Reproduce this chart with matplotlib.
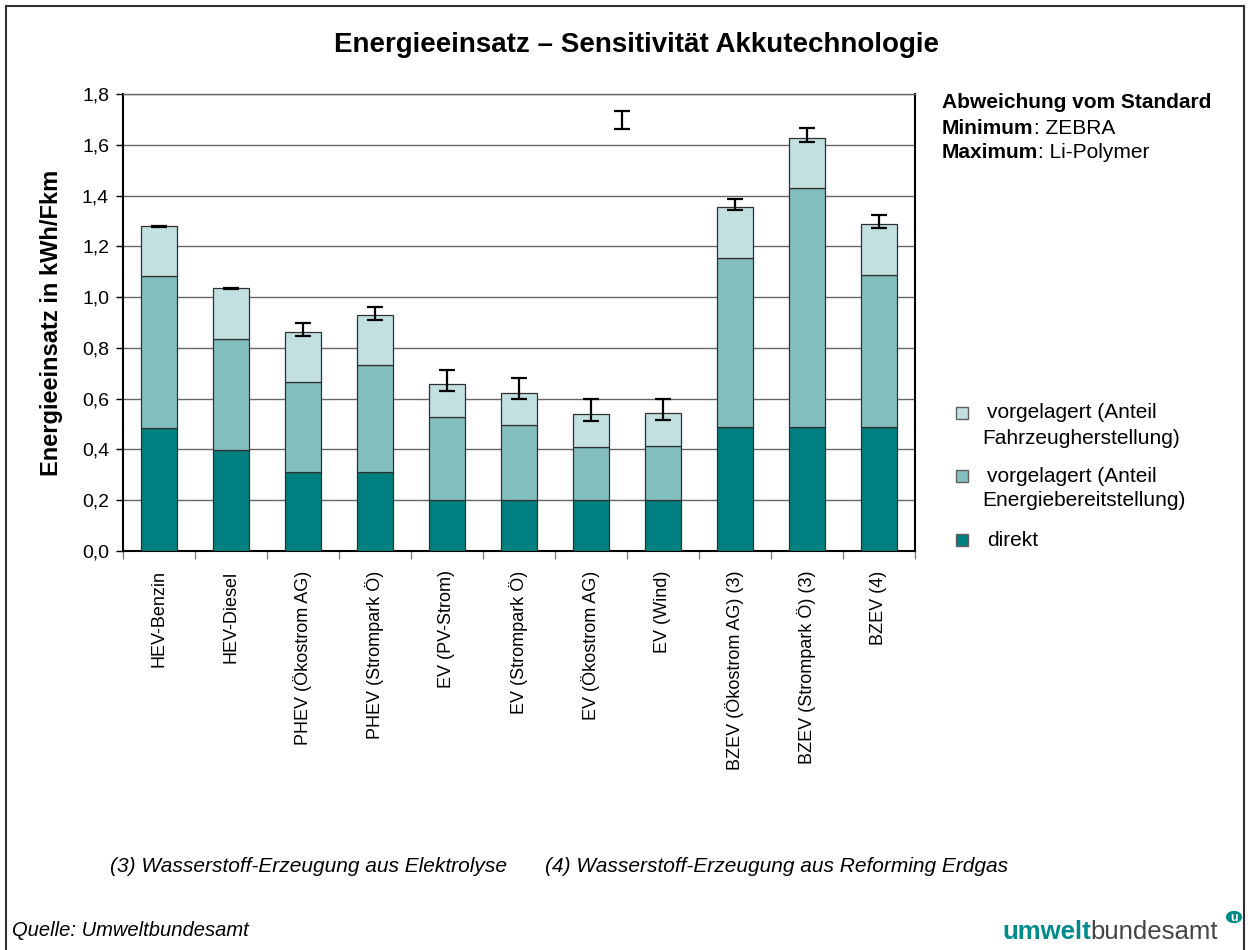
import numpy as np
import matplotlib.pyplot as plt
from matplotlib.patches import Rectangle, Circle

plt.rcParams['font.family'] = ['Liberation Sans', 'DejaVu Sans']

categories = ["HEV-Benzin", "HEV-Diesel", "PHEV (Ökostrom AG)", "PHEV (Strompark Ö)",
              "EV (PV-Strom)", "EV (Strompark Ö)", "EV (Ökostrom AG)", "EV (Wind)",
              "BZEV (Ökostrom AG) (3)", "BZEV (Strompark Ö) (3)", "BZEV (4)"]
direkt = [0.483, 0.398, 0.310, 0.310, 0.200, 0.200, 0.200, 0.200, 0.487, 0.487, 0.487]
energie = [0.599, 0.436, 0.357, 0.423, 0.328, 0.295, 0.208, 0.212, 0.668, 0.941, 0.600]
fahrzeug = [0.197, 0.201, 0.196, 0.195, 0.129, 0.129, 0.130, 0.130, 0.200, 0.200, 0.202]
err_min = [1.275, 1.031, 0.847, 0.911, 0.629, 0.597, 0.511, 0.515, 1.345, 1.612, 1.272]
err_max = [1.282, 1.037, 0.898, 0.962, 0.713, 0.681, 0.597, 0.600, 1.388, 1.666, 1.323]
yticks = [0.0, 0.2, 0.4, 0.6, 0.8, 1.0, 1.2, 1.4, 1.6, 1.8]
legend_labels = [("vorgelagert (Anteil", "Fahrzeugherstellung)"),
                 ("vorgelagert (Anteil", "Energiebereitstellung)"),
                 ("direkt", None)]

c_direkt = "#008080"
c_energie = "#84bfbf"
c_fahrzeug = "#c2e0e0"

W, H = 1251, 950
fig = plt.figure(figsize=(W / 100, H / 100), dpi=100)
ax = fig.add_axes([123 / W, 1 - 551 / H, (915 - 123) / W, (551 - 94) / H])

x = np.arange(len(categories))
d = np.array(direkt)
e = np.array(energie)
f = np.array(fahrzeug)
w = 0.5
ax.bar(x, d, w, color=c_direkt, edgecolor="#303030", lw=0.9, zorder=3)
ax.bar(x, e, w, bottom=d, color=c_energie, edgecolor="#303030", lw=0.9, zorder=3)
ax.bar(x, f, w, bottom=d + e, color=c_fahrzeug, edgecolor="#303030", lw=0.9, zorder=3)

mid = (np.array(err_min) + np.array(err_max)) / 2
half = (np.array(err_max) - np.array(err_min)) / 2
ax.errorbar(x, mid, yerr=half, fmt="none", ecolor="black", elinewidth=1.6,
            capsize=5.5, capthick=1.6, zorder=4)

# error bar key symbol
ax.errorbar([0.63], [0.943], yerr=[0.0197], fmt="none", ecolor="black", elinewidth=1.6,
            capsize=5.5, capthick=1.6, transform=ax.transAxes, clip_on=False)

ax.set_xlim(-0.5, len(categories) - 0.5)
ax.set_ylim(0, 1.8)
ax.set_yticks(yticks)
ax.set_yticklabels([f"{v:.1f}".replace(".", ",") for v in yticks], fontsize=14)
ax.yaxis.grid(True, color="#666666", lw=1.0, zorder=0)
ax.set_axisbelow(True)
ax.tick_params(axis="y", length=5, width=1, direction="out", pad=5)

ax.set_xticks(x)
ax.set_xticklabels(categories, rotation=90, fontsize=13)
ax.tick_params(axis="x", which="major", length=0, pad=14)
ax.set_xticks(np.arange(-0.5, len(categories)), minor=True)
ax.tick_params(axis="x", which="minor", length=6, width=1, color="#808080")

for s in ["left", "bottom", "right"]:
    ax.spines[s].set_color("black")
    ax.spines[s].set_linewidth(1.5)
ax.spines["top"].set_color("#666666")
ax.spines["top"].set_linewidth(1.0)

ax.set_ylabel("Energieeinsatz in kWh/Fkm", fontsize=17, fontweight="bold", labelpad=14)

fig.text(637 / W, 1 - 45 / H, "Energieeinsatz \u2013 Sensitivität Akkutechnologie",
         ha="center", va="center", fontsize=20, fontweight="bold")

# Abweichung block
fig.text(942 / W, 1 - 103 / H, "Abweichung vom Standard", fontsize=15,
         fontweight="bold", va="center")
t2 = fig.text(942 / W, 1 - 128 / H, "Minimum", fontsize=15, fontweight="bold", va="center")
t3 = fig.text(942 / W, 1 - 152 / H, "Maximum", fontsize=15, fontweight="bold", va="center")
fig.add_artist(plt.Annotation(": ZEBRA", xy=(1, 0), xycoords=t2, va="bottom", fontsize=15))
fig.add_artist(plt.Annotation(": Li-Polymer", xy=(1, 0), xycoords=t3, va="bottom", fontsize=15))

# legend (square aligned with the first text line, like the original)
leg_colors = [c_fahrzeug, c_energie, c_direkt]
leg_y = [413, 476, 540]
for col, y0, (l1, l2) in zip(leg_colors, leg_y, legend_labels):
    fig.add_artist(Rectangle((956 / W, 1 - (y0 + 6) / H), 12 / W, 12 / H,
                             transform=fig.transFigure, facecolor=col, edgecolor="#606060", lw=1))
    fig.text(987 / W, 1 - y0 / H, l1, fontsize=15, va="center")
    if l2:
        fig.text(982 / W, 1 - (y0 + 25) / H, l2, fontsize=15, va="center")

# footnotes
fig.text(110 / W, 1 - 866 / H, "(3) Wasserstoff-Erzeugung aus Elektrolyse",
         fontsize=15, style="italic", va="center")
fig.text(545 / W, 1 - 866 / H, "(4) Wasserstoff-Erzeugung aus Reforming Erdgas",
         fontsize=15, style="italic", va="center")
fig.text(12 / W, 1 - 931 / H, "Quelle: Umweltbundesamt",
         fontsize=14.5, style="italic", va="center")

# logo
lg = fig.text(1002 / W, 1 - 932 / H, "umwelt", fontsize=18.5, fontweight="bold",
              color="#008b8b", va="center")
fig.add_artist(plt.Annotation("bundesamt", xy=(1, 0), xycoords=lg, va="bottom", fontsize=18.5,
                              color="#444444"))
fig.add_artist(Circle((1234 / W, 1 - 917 / H), 0.0065, transform=fig.transFigure,
                      facecolor="#008b8b", edgecolor="none"))
fig.text(1234 / W, 1 - 918 / H, "u", fontsize=9, fontweight="bold", color="white",
         ha="center", va="center")

# outer border
fig.add_artist(Rectangle((6 / W, -0.01), 1238 / W, 1 - 6 / H + 0.01,
                         transform=fig.transFigure, fill=False, edgecolor="#303030", lw=1.5))

fig.savefig("out.png", dpi=100)
